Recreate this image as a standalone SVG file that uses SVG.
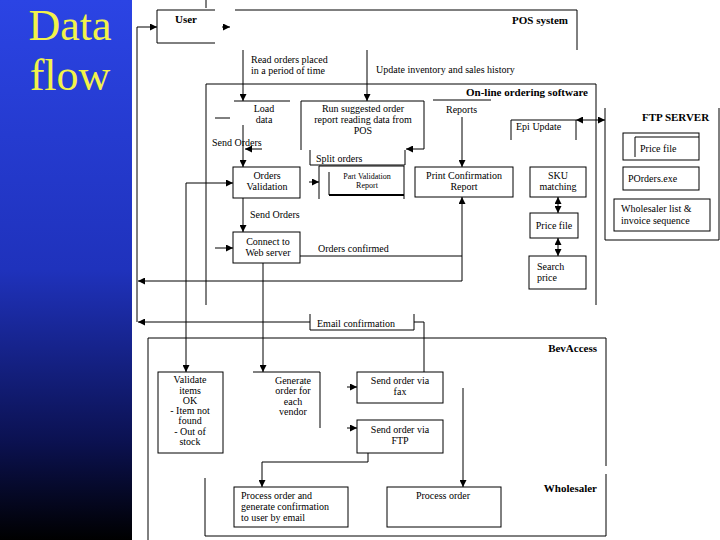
<svg xmlns="http://www.w3.org/2000/svg" width="720" height="540" viewBox="0 0 720 540">
<defs>
<linearGradient id="bg" x1="0" y1="0" x2="0" y2="1">
<stop offset="0" stop-color="#2b44e4"/>
<stop offset="0.5" stop-color="#1f32bc"/>
<stop offset="0.82" stop-color="#0b1150"/>
<stop offset="1" stop-color="#000000"/>
</linearGradient>
<marker id="ah" viewBox="0 0 10 10" refX="10" refY="5" markerWidth="7" markerHeight="7" markerUnits="userSpaceOnUse" orient="auto-start-reverse">
<path d="M0,0 L10,5 L0,10 Z" fill="#000"/>
</marker>
<style>
.b{fill:none;stroke:#000;stroke-width:1}
.c{fill:none;stroke:#000;stroke-width:1}
.t{font-family:"Liberation Serif","Times New Roman",serif;font-size:10px;fill:#000}
.s{font-size:8px}
.h{font-family:"Liberation Serif","Times New Roman",serif;font-size:11px;font-weight:bold;fill:#000}
.m{text-anchor:middle}
.e{text-anchor:end}
.title{font-family:"Liberation Serif","Times New Roman",serif;font-size:44px;fill:#f2f24a;text-anchor:middle}
</style>
</defs>
<rect x="0" y="0" width="720" height="540" fill="#fff"/>
<rect x="0" y="0" width="132" height="540" fill="url(#bg)"/>
<text class="title" x="70" y="40">Data</text>
<text class="title" x="70" y="90">flow</text>

<g id="user"><path class="b" d="M215,10 H157 V43 H215"/><text class="h" x="175" y="23">User</text></g>
<g id="pos"><path class="b" d="M235,10 H577 V50"/><text class="h e" x="568" y="24">POS system</text></g>
<g id="online"><path class="b" d="M206,305 V84 H596 V305"/><text class="h e" x="588" y="96">On-line ordering software</text><path class="b" d="M433,100 H491"/></g>
<g id="loaddata"><path class="b" d="M234,101 H290 M215,118 H230"/><text class="t m" x="264" y="112">Load</text><text class="t m" x="264" y="123">data</text></g>
<g id="runreport"><path class="b" d="M301,150 V101 H424 V149"/><text class="t m" x="363" y="112">Run suggested order</text><text class="t m" x="363" y="123">report reading data from</text><text class="t m" x="363" y="134">POS</text></g>
<g id="reports"><text class="t" x="446" y="113">Reports</text></g>
<g id="epiupdate"><path class="b" d="M511,140 V120 H576 V140"/><text class="t" x="516" y="130">Epi Update</text></g>
<g id="splitorders"><path class="b" d="M310,150 V165 H405 V150"/><text class="t" x="316" y="162">Split orders</text></g>
<g id="ordersvalidation"><rect class="b" x="233" y="167" width="67" height="31"/><text class="t m" x="267" y="179">Orders</text><text class="t m" x="267" y="190">Validation</text></g>
<g id="partvalidation"><path class="b" d="M319,199 V166 H404 V199 M329,172 V195"/><path d="M329,195 H404" stroke="#000" stroke-width="2"/><text class="t s m" x="367" y="179">Part Validation</text><text class="t s m" x="367" y="188">Report</text></g>
<g id="printconfirmation"><rect class="b" x="415" y="167" width="98" height="30"/><text class="t m" x="464" y="179">Print Confirmation</text><text class="t m" x="464" y="190">Report</text></g>
<g id="skumatching"><rect class="b" x="530" y="167" width="56" height="30"/><text class="t m" x="558" y="179">SKU</text><text class="t m" x="558" y="190">matching</text></g>
<g id="pricefile"><rect class="b" x="530" y="213" width="48" height="25"/><text class="t m" x="554" y="229">Price file</text></g>
<g id="searchprice"><rect class="b" x="529" y="256" width="57" height="33"/><text class="t" x="537" y="270">Search</text><text class="t" x="537" y="281">price</text></g>
<g id="ftpserver"><path class="b" d="M605,108 V240 H719 V108"/><text class="h" x="642" y="121">FTP SERVER</text></g>
<g id="ftppricefile"><rect class="b" x="623" y="133" width="76" height="27"/><path class="b" d="M635,157 V137 H699"/><text class="t" x="640" y="152">Price file</text></g>
<g id="porders"><rect class="b" x="623" y="167" width="76" height="23"/><text class="t" x="628" y="182">POrders.exe</text></g>
<g id="wholesalerlist"><rect class="b" x="614" y="199" width="96" height="32"/><text class="t" x="621" y="212">Wholesaler list &amp;</text><text class="t" x="621" y="224">invoice sequence</text></g>
<g id="connectweb"><rect class="b" x="233" y="232" width="67" height="31"/><text class="t m" x="268" y="245">Connect to</text><text class="t m" x="268" y="256">Web server</text></g>
<g id="emailconfirmation"><path class="b" d="M310,314 V330 H414 V314"/><text class="t" x="317" y="327">Email confirmation</text></g>
<g id="bevaccess"><path class="b" d="M148,540 V338 H606 V466"/><text class="h e" x="597" y="352">BevAccess</text></g>
<g id="validateitems"><rect class="b" x="158" y="372" width="65" height="81"/><text class="t m" x="190" y="383">Validate</text><text class="t m" x="190" y="394">items</text><text class="t m" x="190" y="404">OK</text><text class="t m" x="190" y="414">- Item not</text><text class="t m" x="190" y="424">found</text><text class="t m" x="190" y="435">- Out of</text><text class="t m" x="190" y="445">stock</text></g>
<g id="generateorder"><path class="b" d="M253,372 H320 V428"/><text class="t m" x="293" y="384">Generate</text><text class="t m" x="293" y="394">order for</text><text class="t m" x="293" y="405">each</text><text class="t m" x="293" y="415">vendor</text></g>
<g id="sendfax"><rect class="b" x="357" y="372" width="86" height="31"/><text class="t m" x="400" y="384">Send order via</text><text class="t m" x="400" y="395">fax</text></g>
<g id="sendftp"><rect class="b" x="357" y="420" width="86" height="33"/><text class="t m" x="400" y="433">Send order via</text><text class="t m" x="400" y="444">FTP</text></g>
<g id="wholesaler"><path class="b" d="M205,478 V536 H606 V474"/><text class="h e" x="597" y="492">Wholesaler</text></g>
<g id="processemail"><rect class="b" x="234" y="487" width="114" height="40"/><text class="t" x="241" y="499">Process order and</text><text class="t" x="241" y="510">generate confirmation</text><text class="t" x="241" y="521">to user by email</text></g>
<g id="processorder"><rect class="b" x="387" y="487" width="114" height="40"/><text class="t m" x="443" y="499">Process order</text></g>

<g id="connectors">
<path class="c" d="M206,0 V8"/>
<path class="c" d="M137,322 V27 H157" marker-end="url(#ah)"/>
<path class="c" d="M222,27 H230" marker-end="url(#ah)"/>
<path class="c" d="M243,50 V101" marker-end="url(#ah)"/>
<path class="c" d="M367,50 V101" marker-end="url(#ah)"/>
<text class="t" x="251" y="63">Read orders placed</text>
<text class="t" x="251" y="74">in a period of time</text>
<text class="t" x="376" y="73">Update inventory and sales history</text>
<path class="c" d="M243,125 V167" marker-end="url(#ah)"/>
<text class="t" x="212" y="146">Send Orders</text>
<path class="c" d="M262,149 H245" marker-end="url(#ah)"/>
<path class="c" d="M424,149 H406" marker-end="url(#ah)"/>
<path class="c" d="M462,117 V167" marker-end="url(#ah)"/>
<path class="c" d="M576,120 H605" marker-start="url(#ah)" marker-end="url(#ah)"/>
<path class="c" d="M309,182 H319" marker-end="url(#ah)"/>
<path class="c" d="M186,372 V183 H233" marker-start="url(#ah)" marker-end="url(#ah)"/>
<path class="c" d="M243,198 V232" marker-end="url(#ah)"/>
<text class="t" x="250" y="218">Send Orders</text>
<path class="c" d="M215,248 H233" marker-end="url(#ah)"/>
<path class="c" d="M300,256 H462"/>
<text class="t" x="318" y="252">Orders confirmed</text>
<path class="c" d="M462,281 V197" marker-end="url(#ah)"/>
<path class="c" d="M462,281 H138" marker-end="url(#ah)"/>
<path class="c" d="M558,197 V213" marker-start="url(#ah)" marker-end="url(#ah)"/>
<path class="c" d="M558,238 V256" marker-start="url(#ah)" marker-end="url(#ah)"/>
<path class="c" d="M424,372 V322 H414"/>
<path class="c" d="M310,322 H138" marker-end="url(#ah)"/>
<path class="c" d="M263,263 V372" marker-end="url(#ah)"/>
<path class="c" d="M347,387 H357" marker-end="url(#ah)"/>
<path class="c" d="M347,428 H357" marker-end="url(#ah)"/>
<path class="c" d="M368,453 V462 H262 V487" marker-end="url(#ah)"/>
<path class="c" d="M463,388 V487" marker-end="url(#ah)"/>
</g>
</svg>
